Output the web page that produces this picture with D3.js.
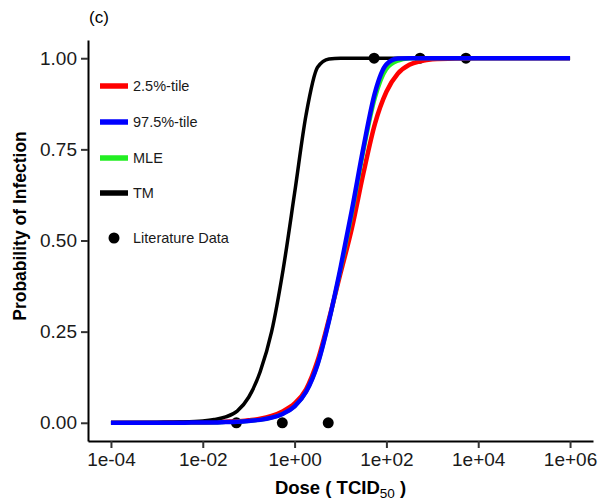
<!DOCTYPE html>
<html>
<head>
<meta charset="utf-8">
<script src="https://cdn.jsdelivr.net/npm/d3@7"></script>
<style>
  body { margin: 0; background: #fff; }
  svg { display: block; font-family: "Liberation Sans", Arial, sans-serif; }
</style>
</head>
<body>
<svg id="chart" width="599" height="501"></svg>
<script>
// dose grid (TCID50) shared by all curves
const doses = [1e-4, 1e-3, 3.16e-3, 1e-2, 1.78e-2, 3.16e-2, 5.62e-2, 0.1, 0.178, 0.316, 0.562,
    1, 1.78, 3.16, 5.62, 10, 17.8, 31.6, 56.2, 100, 178, 316, 562, 1000, 3162, 1e4, 1e5, 1e6];

// probabilities
const lower = [0, 0, 0.001, 0.001, 0.002, 0.003, 0.004, 0.007, 0.011, 0.019, 0.032,
    0.053, 0.092, 0.17, 0.285, 0.41, 0.535, 0.685, 0.82, 0.908, 0.958, 0.982, 0.992, 0.997, 0.9995, 1, 1, 1];
const upper = [0, 0, 0, 0.001, 0.001, 0.002, 0.003, 0.005, 0.008, 0.014, 0.025,
    0.045, 0.085, 0.16, 0.28, 0.425, 0.585, 0.755, 0.905, 0.983, 0.999, 1, 1, 1, 1, 1, 1, 1];
const mle = [0, 0, 0, 0.001, 0.001, 0.002, 0.003, 0.005, 0.008, 0.014, 0.025,
    0.045, 0.085, 0.16, 0.28, 0.42, 0.575, 0.745, 0.89, 0.97, 0.993, 0.999, 1, 1, 1, 1, 1, 1];
const tm = [0, 0.001, 0.002, 0.005, 0.009, 0.016, 0.032, 0.07, 0.14, 0.25, 0.42,
    0.63, 0.845, 0.975, 0.998, 1, 1, 1, 1, 1, 1, 1, 1, 1, 1, 1, 1, 1];

// literature data
const litDose = [0.054, 0.54, 5.4, 54, 540, 5400];
const litProb = [0, 0, 0, 1, 1, 1];

const xTicks = [1e-4, 1e-2, 1, 1e2, 1e4, 1e6];
const xTickLabels = ["1e-04", "1e-02", "1e+00", "1e+02", "1e+04", "1e+06"];
const yTicks = [0, 0.25, 0.5, 0.75, 1];
const yTickLabels = ["0.00", "0.25", "0.50", "0.75", "1.00"];

const seriesNames = ["2.5%-tile", "97.5%-tile", "MLE", "TM"];
const seriesColors = ["#ff0000", "#0000ff", "#22ee22", "#000000"];

const svg = d3.select("#chart");
const padL = 88, padR = 593, padT = 40, padB = 441;

const x = d3.scaleLog().domain([Math.pow(10, -4.5), Math.pow(10, 6.5)]).range([padL, padR]);
const y = d3.scaleLinear().domain([-0.05, 1.05]).range([padB, padT]);

const line = d3.line()
    .x(d => x(d[0]))
    .y(d => y(d[1]))
    .curve(d3.curveMonotoneX);

function pairs(vals) { return doses.map((d, i) => [d, vals[i]]); }

// points first, lines drawn over them
svg.append("g").selectAll("circle")
    .data(litDose.map((d, i) => [d, litProb[i]]))
    .join("circle")
    .attr("cx", d => x(d[0]))
    .attr("cy", d => y(d[1]))
    .attr("r", 5.5)
    .attr("fill", "#000");

const curves = [
    { vals: lower, color: seriesColors[0], w: 4.5 },
    { vals: mle, color: seriesColors[2], w: 4 },
    { vals: tm, color: seriesColors[3], w: 3.5 },
    { vals: upper, color: seriesColors[1], w: 4.5 }
];
svg.append("g").selectAll("path")
    .data(curves)
    .join("path")
    .attr("d", c => line(pairs(c.vals)))
    .attr("fill", "none")
    .attr("stroke", c => c.color)
    .attr("stroke-width", c => c.w)
    .attr("stroke-linejoin", "round");

// axes
const xAxis = svg.append("g")
    .attr("transform", `translate(0,${padB})`)
    .call(d3.axisBottom(x).tickValues(xTicks).tickFormat((d, i) => xTickLabels[i]).tickSize(7).tickSizeOuter(0));
const yAxis = svg.append("g")
    .attr("transform", `translate(${padL},0)`)
    .call(d3.axisLeft(y).tickValues(yTicks).tickFormat((d, i) => yTickLabels[i]).tickSize(7).tickSizeOuter(0));

[xAxis, yAxis].forEach(a => {
    a.select(".domain").attr("stroke", "#000").attr("stroke-width", 2);
    a.selectAll(".tick line").attr("stroke", "#333").attr("stroke-width", 2);
    a.selectAll("text").attr("fill", "#1a1a1a").style("font-size", "19px")
        .style("font-family", "'Liberation Sans', Arial, sans-serif");
});
xAxis.selectAll("text").attr("dy", "0.71em").attr("y", 12);
yAxis.selectAll("text").attr("x", -11);

// axis titles
const xt = svg.append("text")
    .attr("x", (padL + padR) / 2)
    .attr("y", 494)
    .attr("text-anchor", "middle")
    .style("font-size", "18.5px")
    .style("font-weight", "bold");
xt.append("tspan").text("Dose ( TCID");
xt.append("tspan").attr("dy", 4).style("font-size", "13.5px").style("font-weight", "normal").text("50");
xt.append("tspan").attr("dy", -4).text(" )");

svg.append("text")
    .attr("transform", "translate(26,226) rotate(-90)")
    .attr("text-anchor", "middle")
    .style("font-size", "17.5px")
    .style("font-weight", "bold")
    .text("Probability of Infection");

svg.append("text")
    .attr("x", 89)
    .attr("y", 23)
    .style("font-size", "17px")
    .text("(c)");

// legend
const legendY = [86, 122, 158, 193];
const leg = svg.append("g");
seriesNames.forEach((name, i) => {
    leg.append("line")
        .attr("x1", 100).attr("x2", 128)
        .attr("y1", legendY[i]).attr("y2", legendY[i])
        .attr("stroke", seriesColors[i])
        .attr("stroke-width", 5.5);
    leg.append("text")
        .attr("x", 133).attr("y", legendY[i])
        .attr("dy", "0.36em")
        .style("font-size", "14.5px")
        .attr("fill", "#1a1a1a")
        .text(name);
});
leg.append("circle").attr("cx", 114).attr("cy", 238).attr("r", 5.5).attr("fill", "#000");
leg.append("text")
    .attr("x", 133).attr("y", 238)
    .attr("dy", "0.36em")
    .style("font-size", "14.5px")
    .attr("fill", "#1a1a1a")
    .text("Literature Data");
</script>
</body>
</html>
